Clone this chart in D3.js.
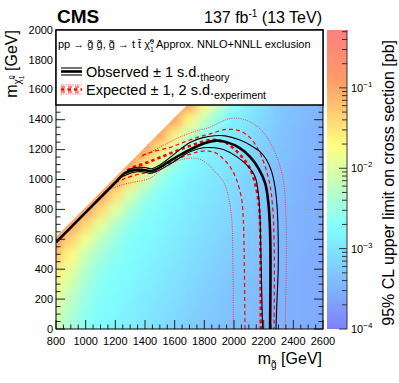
<html>
<head>
<style>
  body { margin: 0; background: #fff; }
  text { font-family: "Liberation Sans", Arial, Helvetica, sans-serif; fill: #000; }
  .ticklab { font-size: 11px; }
</style>
</head>
<body>
<svg id="chart" width="399" height="383"></svg>
<script src="https://d3js.org/d3.v7.min.js"></script>
<script>
// ---- data ----
const gluinoMass = [800, 900, 1000, 1100, 1200, 1300, 1400, 1500, 1600, 1700, 1800, 1900, 2000, 2100, 2200, 2300, 2400, 2500, 2600]
const lspMass = [0, 100, 200, 300, 400, 500, 600, 700, 800, 900, 1000, 1100, 1200, 1300, 1400, 1500, 1600]

// log10 of the 95% CL upper limit [pb]; one array per gluino mass, indexed by lsp mass
const limitLog10 = [
  [-2.14,-2.07,-1.95,-1.81,-1.58,-1.25,-0.91],
  [-2.44,-2.36,-2.25,-2.10,-1.92,-1.69,-1.36,-0.91],
  [-2.66,-2.62,-2.55,-2.44,-2.33,-2.14,-1.84,-1.40,-0.91],
  [-2.77,-2.74,-2.70,-2.66,-2.59,-2.44,-2.25,-1.92,-1.43,-0.91],
  [-2.85,-2.81,-2.77,-2.74,-2.70,-2.62,-2.51,-2.33,-1.95,-1.47,-0.95],
  [-2.92,-2.88,-2.85,-2.81,-2.77,-2.74,-2.70,-2.59,-2.40,-2.03,-1.51,-0.95],
  [-3.00,-2.96,-2.92,-2.88,-2.85,-2.81,-2.77,-2.74,-2.66,-2.47,-2.07,-1.54,-0.95],
  [-3.07,-3.03,-3.00,-2.96,-2.92,-2.88,-2.85,-2.81,-2.77,-2.70,-2.51,-2.10,-1.58,-0.95],
  [-3.14,-3.11,-3.07,-3.03,-3.00,-2.96,-2.92,-2.88,-2.85,-2.81,-2.74,-2.55,-2.14,-1.62,-0.95],
  [-3.22,-3.18,-3.14,-3.11,-3.07,-3.03,-3.00,-2.96,-2.92,-2.88,-2.85,-2.77,-2.59,-2.18,-1.66,-0.99],
  [-3.29,-3.26,-3.22,-3.18,-3.14,-3.11,-3.07,-3.03,-3.00,-2.96,-2.92,-2.88,-2.81,-2.62,-2.21,-1.69,-1.02],
  [-3.33,-3.29,-3.29,-3.26,-3.22,-3.18,-3.14,-3.11,-3.07,-3.03,-3.00,-2.96,-2.92,-2.85,-2.66,-2.25,-1.73],
  [-3.37,-3.37,-3.33,-3.33,-3.29,-3.26,-3.22,-3.18,-3.14,-3.11,-3.07,-3.03,-3.00,-2.96,-2.88,-2.70,-2.29],
  [-3.40,-3.40,-3.37,-3.37,-3.33,-3.33,-3.29,-3.26,-3.22,-3.18,-3.18,-3.14,-3.11,-3.07,-3.00,-2.92,-2.74],
  [-3.44,-3.44,-3.44,-3.40,-3.40,-3.37,-3.37,-3.33,-3.33,-3.29,-3.29,-3.26,-3.22,-3.18,-3.14,-3.07,-3.00],
  [-3.48,-3.48,-3.48,-3.48,-3.44,-3.44,-3.44,-3.40,-3.40,-3.40,-3.37,-3.37,-3.33,-3.33,-3.29,-3.26,-3.18],
  [-3.52,-3.52,-3.52,-3.52,-3.52,-3.48,-3.48,-3.48,-3.48,-3.44,-3.44,-3.44,-3.40,-3.40,-3.37,-3.37,-3.33],
  [-3.55,-3.55,-3.55,-3.55,-3.55,-3.55,-3.52,-3.52,-3.52,-3.52,-3.52,-3.48,-3.48,-3.48,-3.44,-3.44,-3.40],
  [-3.59,-3.59,-3.59,-3.59,-3.59,-3.59,-3.55,-3.55,-3.55,-3.55,-3.55,-3.52,-3.52,-3.52,-3.52,-3.48,-3.48]
]

// edge of the scanned region
const scanEdge = [[800, 0], [800, 615], [2185, 2000], [2600, 2000], [2600, 0]]

// exclusion contours [m_gluino, m_lsp]
const observed = [[800,580],[1000,780],[1200,980],[1260,1040],[1300,1057],[1350,1066],[1395,1064],[1435,1055],[1475,1068],[1530,1100],[1600,1143],[1700,1198],[1800,1243],[1880,1260],[1950,1250],[2040,1210],[2110,1150],[2165,1075],[2210,975],[2232,840],[2243,660],[2246,460],[2245,200],[2243,0]]
const theoryUp = [[1245,1025],[1300,1070],[1350,1082],[1400,1080],[1445,1072],[1490,1092],[1550,1133],[1620,1188],[1703,1248],[1790,1280],[1870,1293],[1940,1292],[2040,1264],[2108,1231],[2175,1186],[2220,1130],[2254,1052],[2276,952],[2292,796],[2298,600],[2298,400],[2290,200],[2283,0]]
const theoryDown = [[1230,1010],[1300,1042],[1350,1052],[1400,1050],[1434,1041],[1480,1055],[1540,1086],[1620,1136],[1703,1186],[1793,1212],[1870,1212],[1928,1200],[2018,1153],[2086,1097],[2142,1019],[2164,908],[2175,751],[2182,462],[2188,200],[2193,0]]
const expected = [[1280,1060],[1330,1085],[1400,1108],[1470,1135],[1535,1160],[1620,1195],[1703,1225],[1780,1250],[1861,1265],[1951,1242],[2029,1178],[2080,1118],[2108,1075],[2142,975],[2164,863],[2175,729],[2178,500],[2180,250],[2180,0]]
const expUp = [[1380,1160],[1450,1185],[1569,1215],[1650,1245],[1749,1280],[1838,1305],[1950,1335],[2040,1325],[2108,1280],[2164,1200],[2209,1090],[2243,960],[2262,800],[2270,600],[2272,300],[2270,0]]
const expDown = [[1200,980],[1260,1005],[1330,1028],[1420,1050],[1500,1080],[1600,1128],[1700,1168],[1771,1188],[1830,1190],[1883,1175],[1935,1130],[1973,1086],[2018,997],[2052,863],[2063,729],[2070,400],[2074,0]]
const exp2Up = [[1360,1140],[1450,1190],[1546,1240],[1650,1290],[1749,1325],[1838,1350],[1900,1380],[1973,1408],[2063,1403],[2153,1358],[2220,1286],[2288,1153],[2332,997],[2351,729],[2352,400],[2345,0]]
const exp2Down = [[1141,921],[1200,950],[1288,975],[1344,985],[1434,1008],[1479,1041],[1546,1090],[1636,1130],[1726,1142],[1793,1125],[1861,1064],[1928,985],[1962,885],[1985,729],[1993,400],[1996,0]]

const xTicks = [800, 1000, 1200, 1400, 1600, 1800, 2000, 2200, 2400, 2600]
const yTicks = [0, 200, 400, 600, 800, 1000, 1200, 1400, 1600, 1800, 2000]
const zDecades = [1e-4, 1e-3, 1e-2, 1e-1]
const zDecadeLabels = ["-4", "-3", "-2", "-1"]
const zTop = 0.525

// ---- scales ----
let svg = d3.select("#chart")
let x = d3.scaleLinear().domain([800, 2600]).range([56, 323])
let y = d3.scaleLinear().domain([0, 2000]).range([329, 30])
let zPos = d3.scaleLog().domain([1e-4, zTop]).range([0, 1]).clamp(true)
let zY = d3.scaleLog().domain([1e-4, zTop]).range([329, 30])
let palStops = [0, 0.34, 0.61, 0.84, 1]
let palColors = ["#8080ff", "#80ffff", "#ffff80", "#ff9966", "#ff8080"]
let pal = d3.scaleLinear().domain(palStops).range(palColors)

let defs = svg.append("defs")
defs.append("clipPath").attr("id", "scan")
    .append("polygon")
    .attr("points", scanEdge.map(d => x(d[0]) + "," + y(d[1])).join(" "))
defs.append("clipPath").attr("id", "frame")
    .append("rect").attr("x", 56).attr("y", 30).attr("width", 267).attr("height", 299)
defs.append("filter").attr("id", "smooth")
    .attr("filterUnits", "userSpaceOnUse")
    .attr("x", 0).attr("y", 0).attr("width", 399).attr("height", 383)
    .append("feGaussianBlur").attr("stdDeviation", 5)

// ---- heat map ----
let cells = []
gluinoMass.forEach((mg, i) => {
    limitLog10[i].forEach((v, j) => {
        let last = j == limitLog10[i].length - 1
        cells.push({
            x0: mg - (i == 0 ? 150 : 50),
            x1: mg + (i == gluinoMass.length - 1 ? 150 : 50),
            y0: lspMass[j] - (j == 0 ? 150 : 50),
            y1: lspMass[j] + (last ? 150 : 50),
            v: v
        })
    })
})
svg.append("g").attr("clip-path", "url(#scan)")
   .append("g").attr("filter", "url(#smooth)")
   .selectAll("rect").data(cells).enter()
   .append("rect")
   .attr("x", d => x(d.x0))
   .attr("y", d => y(d.y1))
   .attr("width", d => x(d.x1) - x(d.x0) + 0.5)
   .attr("height", d => y(d.y0) - y(d.y1) + 0.5)
   .attr("fill", d => pal(zPos(Math.pow(10, d.v))))

// ---- contours ----
let line = d3.line().x(d => x(d[0])).y(d => y(d[1])).curve(d3.curveCatmullRom.alpha(0.5))
let cont = svg.append("g").attr("clip-path", "url(#frame)").attr("fill", "none")
    .attr("stroke-linejoin", "round")
function drawLine(data, color, width, dash) {
    cont.append("path").datum(data).attr("d", line)
        .attr("stroke", color).attr("stroke-width", width)
        .attr("stroke-dasharray", dash)
}
drawLine(exp2Up, "#ff3333", 1, "1,1.3")
drawLine(exp2Down, "#ff3333", 1, "1,1.3")
drawLine(expUp, "#ff0000", 1.2, "4,3")
drawLine(expDown, "#ff0000", 1.2, "4,3")
drawLine(expected, "#ff0000", 2.6, "3.5,3")
drawLine(theoryUp, "#000", 1.1, null)
drawLine(theoryDown, "#000", 1.1, null)
drawLine(observed, "#000", 2.6, null)

// ---- axes ticks ----
let axes = svg.append("g").attr("stroke", "#222").attr("stroke-width", 1)
let xMinor = d3.range(800, 2601, 50)
let yMinor = d3.range(0, 2001, 50)
xMinor.forEach(v => {
    let len = (v % 200 == 0) ? 9 : 4.5
    axes.append("line").attr("x1", x(v)).attr("x2", x(v)).attr("y1", 329).attr("y2", 329 - len)
})
yMinor.forEach(v => {
    let len = (v % 200 == 0) ? 9 : 4.5
    axes.append("line").attr("x1", 56).attr("x2", 56 + len).attr("y1", y(v)).attr("y2", y(v))
    axes.append("line").attr("x1", 323).attr("x2", 323 - len).attr("y1", y(v)).attr("y2", y(v))
})
svg.append("rect").attr("x", 56).attr("y", 30).attr("width", 267).attr("height", 299)
   .attr("fill", "none").attr("stroke", "#000").attr("stroke-width", 1)

svg.append("g").selectAll("text").data(xTicks).enter().append("text")
   .attr("class", "ticklab").attr("x", d => x(d)).attr("y", 345)
   .attr("text-anchor", "middle").text(d => d)
svg.append("g").selectAll("text").data(yTicks).enter().append("text")
   .attr("class", "ticklab").attr("x", 53).attr("y", d => y(d)).attr("dy", "0.33em")
   .attr("text-anchor", "end").text(d => d)

// axis titles
let xt = svg.append("text").attr("x", 322).attr("y", 364).attr("text-anchor", "end").style("font-size", "16px")
xt.append("tspan").text("m")
xt.append("tspan").attr("dy", 4).style("font-size", "10px").text("g\u0303")
xt.append("tspan").attr("dy", -4).text(" [GeV]")

let yt = svg.append("text").attr("transform", "translate(17,30) rotate(-90)")
    .attr("text-anchor", "end").style("font-size", "16px")
yt.append("tspan").text("m")
yt.append("tspan").attr("dy", 4).style("font-size", "10px").text("\u03c7\u0303")
yt.append("tspan").attr("dy", 3).style("font-size", "7px").text("1")
yt.append("tspan").attr("dx", -4).attr("dy", -10).style("font-size", "7px").text("0")
yt.append("tspan").attr("dy", 3).text(" [GeV]")

// ---- colour bar ----
let grad = defs.append("linearGradient").attr("id", "zgrad")
    .attr("x1", 0).attr("y1", 1).attr("x2", 0).attr("y2", 0)
palStops.forEach((s, i) => grad.append("stop").attr("offset", s).attr("stop-color", palColors[i]))
svg.append("rect").attr("x", 327).attr("y", 30).attr("width", 20).attr("height", 299)
   .attr("fill", "url(#zgrad)")
let zt = svg.append("g").attr("stroke", "#333").attr("stroke-width", 1)
zY.ticks().forEach(v => {
    let major = zDecades.some(d => Math.abs(d - v) / d < 1e-6)
    zt.append("line").attr("x1", 347).attr("x2", 347 - (major ? 8 : 5))
      .attr("y1", zY(v)).attr("y2", zY(v))
})
zt.append("line").attr("x1", 347).attr("x2", 347).attr("y1", 30).attr("y2", 329)
zDecades.forEach((v, i) => {
    let t = svg.append("text").attr("x", 351).attr("y", zY(v) + 4).style("font-size", "11px")
    t.append("tspan").text("10")
    t.append("tspan").attr("dy", -5).style("font-size", "8px").text("\u2212" + zDecadeLabels[i].slice(1))
})
svg.append("text").attr("transform", "translate(394,40) rotate(-90)")
   .attr("text-anchor", "end").style("font-size", "16px")
   .text("95% CL upper limit on cross section [pb]")

// ---- header ----
svg.append("text").attr("x", 57).attr("y", 23).style("font-size", "19px").style("font-weight", "bold").text("CMS")
let lumi = svg.append("text").attr("x", 322).attr("y", 23).attr("text-anchor", "end").style("font-size", "16px")
lumi.append("tspan").text("137 fb")
lumi.append("tspan").attr("dy", -6).style("font-size", "10px").text("-1")
lumi.append("tspan").attr("dy", 6).text(" (13 TeV)")

// ---- legend ----
svg.append("rect").attr("x", 56).attr("y", 30).attr("width", 267).attr("height", 75)
   .attr("fill", "#fff").attr("stroke", "#000").attr("stroke-width", 1.5)
let l1 = svg.append("text").attr("x", 58).attr("y", 48).style("font-size", "11px")
l1.append("tspan").text("pp \u2192 g\u0303 g\u0303, g\u0303 \u2192 t t\u0304 \u03c7\u0303")
l1.append("tspan").attr("dy", -4).style("font-size", "7px").text("0")
l1.append("tspan").attr("dx", -4).attr("dy", 8).style("font-size", "7px").text("1")
l1.append("tspan").attr("x", 156).attr("dy", -4).text("Approx. NNLO+NNLL exclusion")

let lg = svg.append("g")
lg.append("line").attr("x1", 61).attr("x2", 82).attr("y1", 71.5).attr("y2", 71.5).attr("stroke", "#000").attr("stroke-width", 2.6)
lg.append("line").attr("x1", 61).attr("x2", 82).attr("y1", 68).attr("y2", 68).attr("stroke", "#000").attr("stroke-width", 1.1)
lg.append("line").attr("x1", 61).attr("x2", 82).attr("y1", 75).attr("y2", 75).attr("stroke", "#000").attr("stroke-width", 1.1)
let ly = 89.5
lg.append("line").attr("x1", 61).attr("x2", 82).attr("y1", ly).attr("y2", ly).attr("stroke", "#f00").attr("stroke-width", 2.6).attr("stroke-dasharray", "3.5,3")
;[-2.5, 2.5].forEach(o => lg.append("line").attr("x1", 61).attr("x2", 82).attr("y1", ly + o).attr("y2", ly + o)
    .attr("stroke", "#f00").attr("stroke-width", 1.1).attr("stroke-dasharray", "4,3"))
;[-4.5, 4.5].forEach(o => lg.append("line").attr("x1", 61).attr("x2", 82).attr("y1", ly + o).attr("y2", ly + o)
    .attr("stroke", "#ff3333").attr("stroke-width", 1).attr("stroke-dasharray", "1,1.3"))

let t2 = svg.append("text").attr("x", 86).attr("y", 76.5).style("font-size", "14.5px")
t2.append("tspan").text("Observed \u00b1 1 s.d.")
t2.append("tspan").attr("dy", 4).style("font-size", "10.5px").text("theory")
let t3 = svg.append("text").attr("x", 86).attr("y", 95).style("font-size", "14.5px")
t3.append("tspan").text("Expected \u00b1 1, 2 s.d.")
t3.append("tspan").attr("dy", 4).style("font-size", "10.5px").text("experiment")
</script>
</body>
</html>
